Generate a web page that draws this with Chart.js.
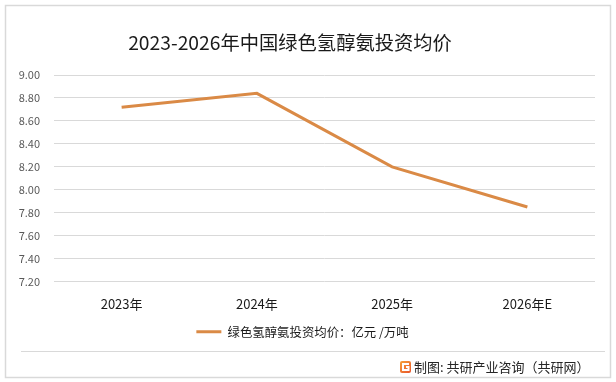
<!DOCTYPE html>
<html>
<head>
<meta charset="utf-8">
<script src="https://cdn.jsdelivr.net/npm/chart.js@4/dist/chart.umd.min.js"></script>
<style>
html,body{margin:0;padding:0;background:#fff;}
canvas{display:block;}
</style>
</head>
<body>
<canvas id="c" width="616" height="382"></canvas>
<script>
const categories = ['2023年', '2024年', '2025年', '2026年E'];
const prices = [8.72, 8.84, 8.20, 7.85];
const seriesName = '绿色氢醇氨投资均价：亿元 /万吨';
const titleText = '2023-2026年中国绿色氢醇氨投资均价';
const footerText = '制图: 共研产业咨询（共研网）';
const yMin = 7.2, yMax = 9.0, yStep = 0.2;

const CJK = '"Noto Sans CJK SC", "Noto Sans", sans-serif';

const decor = {
  id: 'decor',
  beforeDraw(chart) {
    const ctx = chart.ctx;
    ctx.save();
    ctx.fillStyle = '#ffffff';
    ctx.fillRect(0, 0, chart.width, chart.height);
    ctx.strokeStyle = '#d9d9d9';
    ctx.lineWidth = 1.5;
    ctx.strokeRect(5.5, 5.5, 605, 372);
    ctx.lineWidth = 1;
    ctx.beginPath();
    ctx.moveTo(21, 351.5);
    ctx.lineTo(605, 351.5);
    ctx.stroke();
    ctx.restore();
  },
  afterDraw(chart) {
    const ctx = chart.ctx;
    ctx.save();
    ctx.fillStyle = '#1a1a1a';
    ctx.font = '19.3px ' + CJK;
    ctx.textAlign = 'center';
    ctx.textBaseline = 'middle';
    ctx.fillText(titleText, 290, 43);
    // logo
    const g = ctx.createLinearGradient(400, 361, 411, 373);
    g.addColorStop(0, '#f7a13a');
    g.addColorStop(1, '#e8532a');
    ctx.fillStyle = g;
    ctx.beginPath();
    ctx.roundRect(400, 361, 11, 12, 2);
    ctx.fill();
    ctx.strokeStyle = '#ffffff';
    ctx.lineWidth = 2;
    ctx.beginPath();
    ctx.moveTo(409, 364);
    ctx.lineTo(403, 364);
    ctx.lineTo(403, 370);
    ctx.lineTo(408.5, 370);
    ctx.lineTo(408.5, 367);
    ctx.lineTo(406, 367);
    ctx.stroke();
    ctx.fillStyle = '#262626';
    ctx.font = '13px ' + CJK;
    ctx.textAlign = 'left';
    ctx.fillText(footerText, 414, 367);
    ctx.restore();
  }
};

new Chart(document.getElementById('c'), {
  type: 'line',
  data: {
    labels: categories,
    datasets: [{
      label: seriesName,
      data: prices,
      borderColor: '#da8a46',
      backgroundColor: '#da8a46',
      borderWidth: 3,
      pointRadius: 0,
      tension: 0,
      fill: false
    }]
  },
  options: {
    responsive: false,
    animation: false,
    devicePixelRatio: 1,
    layout: { padding: { top: 75, right: 21, bottom: 34, left: 10 } },
    plugins: {
      title: { display: false },
      tooltip: { enabled: false },
      legend: {
        display: true,
        position: 'bottom',
        labels: {
          usePointStyle: true,
          pointStyle: 'line',
          pointStyleWidth: 25,
          padding: 10,
          color: '#1a1a1a',
          font: { size: 12.4, family: CJK }
        }
      }
    },
    scales: {
      x: {
        offset: true,
        grid: { display: false, drawTicks: false },
        border: { display: false },
        ticks: { color: '#1a1a1a', padding: 15, font: { size: 13, family: CJK } },
        afterFit(s) { s.height = 34; }
      },
      y: {
        min: yMin,
        max: yMax,
        grid: { color: '#d9d9d9', drawTicks: false, lineWidth: 1 },
        border: { display: false },
        ticks: {
          stepSize: yStep,
          padding: 14,
          color: '#595959',
          font: { size: 11, family: CJK },
          callback: v => Number(v).toFixed(2)
        },
        afterFit(s) { s.width = 44; }
      }
    }
  },
  plugins: [decor]
});
</script>
</body>
</html>
